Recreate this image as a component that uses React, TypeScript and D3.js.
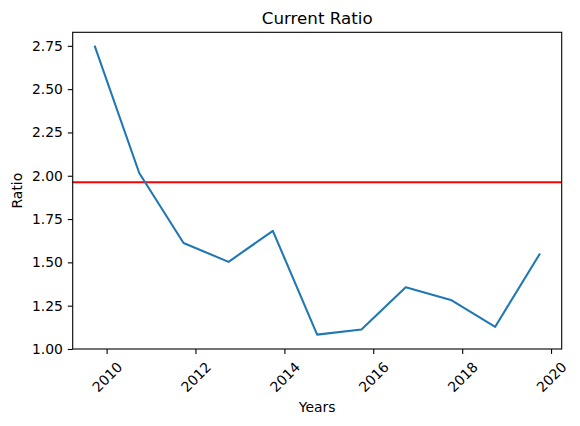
import React, {useEffect, useRef} from 'react';
import * as d3 from 'd3';

// fiscal year-end dates and current ratio values
const dates = [
  '2009-09-27',
  '2010-09-26',
  '2011-09-25',
  '2012-09-29',
  '2013-09-28',
  '2014-09-27',
  '2015-09-26',
  '2016-09-24',
  '2017-09-30',
  '2018-09-29',
  '2019-09-28',
];
const ratios = [2.745, 2.016, 1.612, 1.503, 1.682, 1.083, 1.113, 1.356, 1.283, 1.128, 1.546];
const benchmark = 1.962;
const yTicks = [1.0, 1.25, 1.5, 1.75, 2.0, 2.25, 2.5, 2.75];
const xTickYears = [2010, 2012, 2014, 2016, 2018, 2020];

const W = 580;
const H = 426;
const FONT = 'DejaVu Sans, sans-serif';

const App: React.FC = () => {
  const svgRef = useRef<SVGSVGElement | null>(null);

  useEffect(() => {
    if (!svgRef.current) return;
    const svg = d3.select(svgRef.current);
    svg.selectAll('*').remove();

    const margin = {top: 32.3, right: 18.3, bottom: 77, left: 72.7};
    const innerWidth = W - margin.left - margin.right;
    const innerHeight = H - margin.top - margin.bottom;

    const data = dates.map((d, i) => ({date: new Date(d + 'T00:00:00Z'), value: ratios[i]}));

    // matplotlib-like 5% margins
    const [t0, t1] = d3.extent(data, (d) => d.date.getTime()) as [number, number];
    const tPad = (t1 - t0) * 0.05;
    const x = d3
      .scaleUtc()
      .domain([new Date(t0 - tPad), new Date(t1 + tPad)])
      .range([0, innerWidth]);

    const vMin = d3.min(ratios)!;
    const vMax = d3.max(ratios)!;
    const vPad = (vMax - vMin) * 0.05;
    const y = d3
      .scaleLinear()
      .domain([vMin - vPad, vMax + vPad])
      .range([innerHeight, 0]);

    const g = svg
      .append('g')
      .attr('transform', `translate(${margin.left},${margin.top})`);

    // y axis
    const yAxis = d3
      .axisLeft(y)
      .tickValues(yTicks)
      .tickFormat(d3.format('.2f'))
      .tickSize(4.9)
      .tickPadding(4.9);
    const yAxisNode = g.append('g').attr('class', 'y-axis').call(yAxis);

    // x axis
    const xAxis = d3
      .axisBottom(x)
      .tickValues(xTickYears.map((yr) => new Date(Date.UTC(yr, 0, 1))))
      .tickFormat(d3.utcFormat('%Y') as any)
      .tickSize(4.9);
    const xAxisNode = g
      .append('g')
      .attr('class', 'x-axis')
      .attr('transform', `translate(0,${innerHeight})`)
      .call(xAxis);

    xAxisNode
      .selectAll('.tick text')
      .attr('y', null)
      .attr('dy', null)
      .attr('text-anchor', 'middle')
      .attr('dominant-baseline', 'central')
      .attr('transform', 'translate(0,28) rotate(-45)');

    svg
      .selectAll('.x-axis .tick text, .y-axis .tick text')
      .style('fill', '#000')
      .style('font-family', FONT)
      .style('font-size', '13.9px');

    svg.selectAll('.x-axis .domain, .y-axis .domain').remove();
    svg.selectAll('.tick line').attr('stroke', '#000').attr('stroke-width', 1.1);

    // reference line
    g.append('line')
      .attr('x1', 0)
      .attr('x2', innerWidth)
      .attr('y1', y(benchmark))
      .attr('y2', y(benchmark))
      .attr('stroke', '#ff0000')
      .attr('stroke-width', 2.08);

    // series line
    const line = d3
      .line<{date: Date; value: number}>()
      .x((d) => x(d.date))
      .y((d) => y(d.value));

    g.append('path')
      .datum(data)
      .attr('fill', 'none')
      .attr('stroke', '#1f77b4')
      .attr('stroke-width', 2.08)
      .attr('stroke-linejoin', 'round')
      .attr('stroke-linecap', 'square')
      .attr('d', line);

    // frame
    g.append('rect')
      .attr('x', 0)
      .attr('y', 0)
      .attr('width', innerWidth)
      .attr('height', innerHeight)
      .attr('fill', 'none')
      .attr('stroke', '#000')
      .attr('stroke-width', 1.1);

    // title and axis labels
    svg
      .append('text')
      .attr('x', margin.left + innerWidth / 2)
      .attr('y', 23.8)
      .attr('text-anchor', 'middle')
      .style('font-family', FONT)
      .style('font-size', '16.7px')
      .text('Current Ratio');

    svg
      .append('text')
      .attr('x', margin.left + innerWidth / 2)
      .attr('y', 412)
      .attr('text-anchor', 'middle')
      .style('font-family', FONT)
      .style('font-size', '13.9px')
      .text('Years');

    svg
      .append('text')
      .attr('transform', `translate(22,${margin.top + innerHeight / 2}) rotate(-90)`)
      .attr('text-anchor', 'middle')
      .style('font-family', FONT)
      .style('font-size', '13.9px')
      .text('Ratio');
  }, []);

  return (
    <svg
      ref={svgRef}
      width={W}
      height={H}
      style={{position: 'absolute', left: 0, top: 0, background: '#fff'}}
    />
  );
};

export default App;
